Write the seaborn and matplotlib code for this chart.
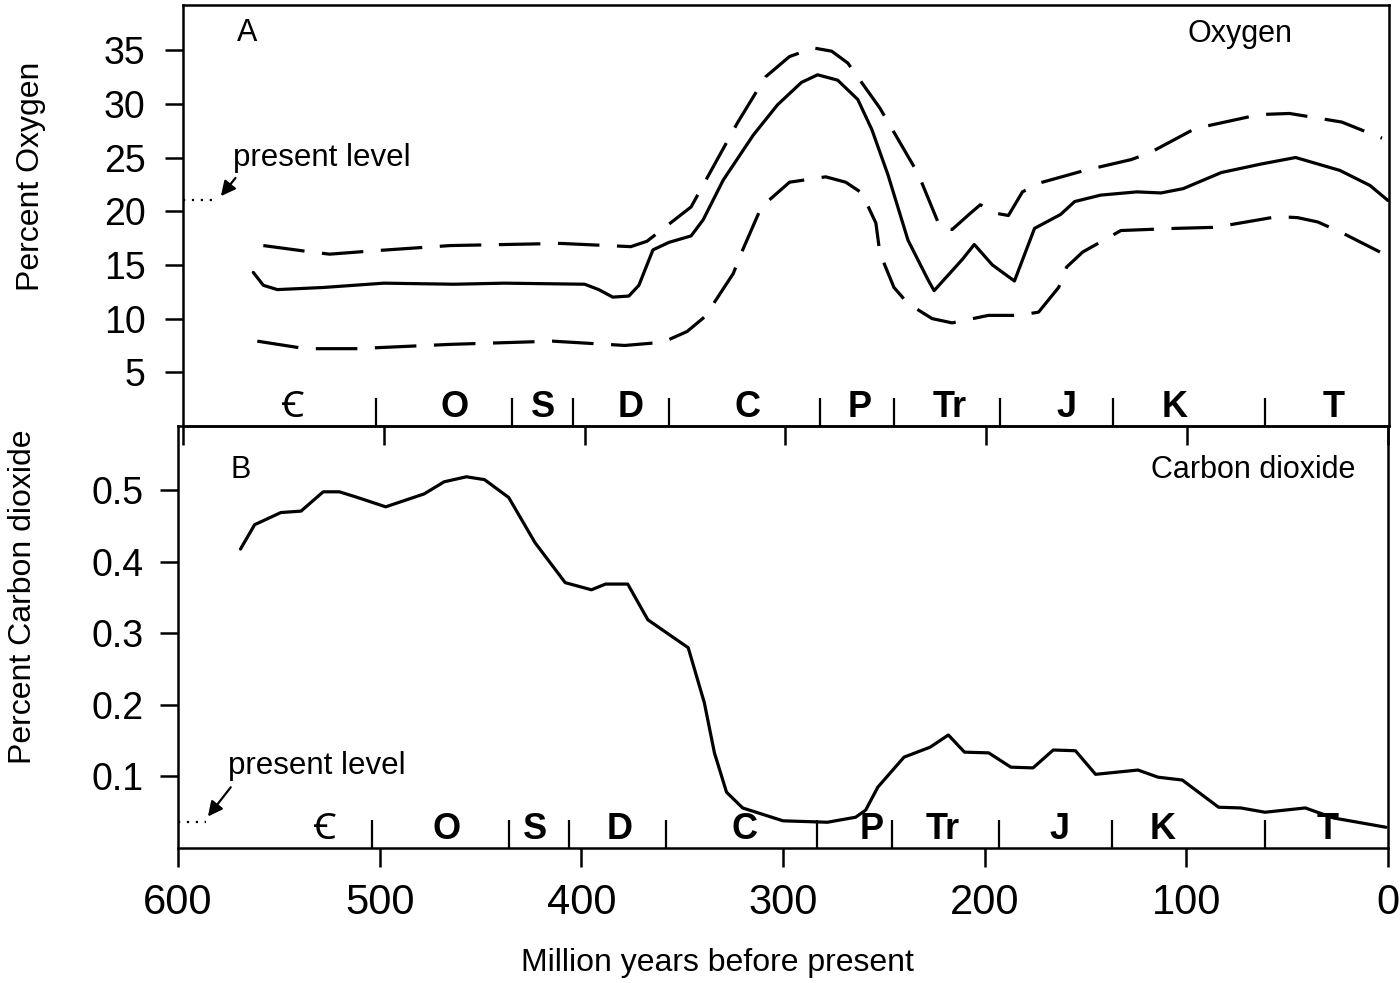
import pandas as pd
import matplotlib
matplotlib.use('Agg')
import matplotlib.pyplot as plt
import matplotlib.transforms as mtransforms
import seaborn as sns

# oxygen, best estimate (million years ago, percent)
o2_age = [565, 560, 553, 530, 500, 465, 440, 400, 393, 386, 378, 373, 366, 358, 347, 341,
          331, 316, 304, 292, 284, 274, 264, 257, 249, 239, 229, 226, 212, 206, 197, 186,
          176, 163, 156, 143, 125, 113, 102, 83, 63, 46, 24, 9, 0]
o2_mid = [14.3, 13.1, 12.7, 12.9, 13.3, 13.2, 13.3, 13.2, 12.7, 12.0, 12.1, 13.1, 16.4, 17.1,
          17.7, 19.2, 22.9, 27.1, 29.9, 32.0, 32.7, 32.2, 30.4, 27.6, 23.4, 17.3, 13.6, 12.6,
          15.5, 16.9, 15.0, 13.5, 18.4, 19.7, 20.9, 21.5, 21.8, 21.7, 22.1, 23.6, 24.4, 25.0,
          23.8, 22.4, 21.0]
# upper error band
o2_hi_age = [560, 536, 527, 506, 467, 412, 377, 369, 347, 324, 310, 298, 286, 277, 269, 253,
             234, 223, 217, 208, 203, 195, 189, 182, 174, 151, 128, 119, 96, 64, 49, 23, 3]
o2_hi = [16.8, 16.2, 16.0, 16.3, 16.8, 17.0, 16.7, 17.2, 20.4, 28.2, 32.5, 34.4, 35.2, 34.9,
         33.8, 29.6, 23.5, 18.5, 18.3, 19.8, 20.6, 19.8, 19.6, 21.8, 22.6, 23.8, 24.8, 25.4,
         27.7, 29.0, 29.1, 28.3, 26.8]
# lower error band
o2_lo_age = [563, 539, 514, 467, 416, 380, 361, 349, 340, 326, 322, 312, 298, 280, 270, 262,
             255, 253, 246, 239, 227, 217, 199, 184, 174, 164, 160, 152, 133, 106, 86, 55, 45,
             35, 23, 4]
o2_lo = [7.9, 7.2, 7.2, 7.6, 7.9, 7.5, 7.8, 8.8, 10.2, 14.2, 16.1, 20.4, 22.7, 23.2, 22.7, 21.7,
         18.9, 16.1, 12.9, 11.4, 10.0, 9.6, 10.3, 10.3, 10.6, 12.9, 14.8, 16.2, 18.2, 18.4,
         18.5, 19.5, 19.4, 19.0, 18.0, 16.2]

# carbon dioxide
co2_age = [569, 562, 549, 539, 528, 520, 512, 497, 478, 468, 457, 448, 436, 423, 408, 395,
           388, 377, 367, 347, 339, 334, 328, 320, 300, 278, 264, 259, 253, 240, 227, 218,
           210, 198, 187, 176, 166, 155, 145, 124, 114, 102, 84, 73, 61, 41, 27, 1]
co2 = [0.418, 0.452, 0.469, 0.471, 0.498, 0.498, 0.491, 0.477, 0.495, 0.512, 0.519, 0.515,
       0.490, 0.427, 0.371, 0.361, 0.369, 0.369, 0.319, 0.280, 0.203, 0.133, 0.078, 0.056,
       0.038, 0.036, 0.043, 0.053, 0.085, 0.127, 0.141, 0.158, 0.134, 0.133, 0.113, 0.112,
       0.137, 0.136, 0.103, 0.109, 0.099, 0.095, 0.057, 0.056, 0.050, 0.056, 0.042, 0.029]

o2_present = 21.0
co2_present = 0.036

period_names = ['\uA792', 'O', 'S', 'D', 'C', 'P', 'Tr', 'J', 'K', 'T']
period_bounds = [504, 436, 406, 358, 283, 246, 193, 137, 61]
period_mid_a = [545, 465, 421, 377, 319, 263, 218, 160, 106, 27]
period_mid_b = [527, 467, 423, 381, 319, 256, 221, 163, 112, 30]

o2_ticks = [5, 10, 15, 20, 25, 30, 35]
co2_ticks = [0.1, 0.2, 0.3, 0.4, 0.5]
age_ticks = [600, 500, 400, 300, 200, 100, 0]

sns.set_theme(style='ticks')
plt.rcParams['font.family'] = ['Liberation Sans', 'Noto Sans', 'DejaVu Sans']
plt.rcParams.update({'axes.linewidth': 1.8, 'axes.edgecolor': 'black', 'text.color': 'black',
                     'axes.labelcolor': 'black', 'xtick.color': 'black', 'ytick.color': 'black'})

fig = plt.figure(figsize=(14, 9.83), dpi=100)
ax1 = fig.add_axes([183 / 1400, 1 - 426 / 983, 1206 / 1400, 421 / 983])
ax2 = fig.add_axes([178 / 1400, 1 - 848 / 983, 1210 / 1400, 422 / 983])
for ax in (ax1, ax2):
    ax.set_facecolor('none')

lw = 2.3
dash = (0, (13, 5.5))
sns.lineplot(x=o2_age, y=o2_mid, ax=ax1, color='black', lw=lw, sort=False)
sns.lineplot(x=o2_hi_age, y=o2_hi, ax=ax1, color='black', lw=lw, sort=False, linestyle=dash)
sns.lineplot(x=o2_lo_age, y=o2_lo, ax=ax1, color='black', lw=lw, sort=False, linestyle=dash)
sns.lineplot(x=co2_age, y=co2, ax=ax2, color='black', lw=lw, sort=False)

ax1.set_xlim(597.5, -0.5)
ax1.set_ylim(0, 39.2)
ax2.set_xlim(600, 0)
ax2.set_ylim(0, 0.59)

ax1.set_yticks(o2_ticks)
ax1.set_yticklabels([str(t) for t in o2_ticks])
ax2.set_yticks(co2_ticks)
ax2.set_yticklabels([str(t) for t in co2_ticks])
for ax in (ax1, ax2):
    ax.set_xticks(age_ticks)
    ax.set_xticks(period_bounds, minor=True)
    ax.tick_params(axis='y', which='major', direction='out', length=13, width=1.8,
                   labelsize=27, pad=14 if ax is ax1 else 12)
    ax.tick_params(axis='x', which='minor', direction='in', length=20, width=1.6)
    ax.tick_params(axis='x', which='major', direction='out', length=14, width=1.8)
ax1.tick_params(axis='x', which='major', labelbottom=False)
ax2.tick_params(axis='x', which='major', labelsize=30, pad=11)
ax2.set_xticklabels([str(t) for t in age_ticks])

ax1.set_ylabel('Percent Oxygen', fontsize=23)
ax2.set_ylabel('Percent Carbon dioxide', fontsize=23)
ax1.yaxis.set_label_coords(-0.114, 0.594)
ax2.yaxis.set_label_coords(-0.116, 0.595)
ax2.set_xlabel('Million years before present', fontsize=23)
ax2.xaxis.set_label_coords(0.446, -0.238)
ax1.set_xlabel('')

# panel letters and titles
ax1.text(0.045, 0.933, 'A', transform=ax1.transAxes, fontsize=22, ha='left', va='center')
ax1.text(0.92, 0.93, 'Oxygen', transform=ax1.transAxes, fontsize=22, ha='right', va='center')
ax2.text(0.043, 0.896, 'B', transform=ax2.transAxes, fontsize=22, ha='left', va='center')
ax2.text(0.973, 0.896, 'Carbon dioxide', transform=ax2.transAxes, fontsize=22,
         ha='right', va='center')

# geologic periods
for ax, mids in ((ax1, period_mid_a), (ax2, period_mid_b)):
    trans = mtransforms.blended_transform_factory(ax.transData, ax.transAxes)
    for name, m in zip(period_names, mids):
        ax.text(m, 0.045, name, transform=trans, fontsize=26, fontweight='bold',
                ha='center', va='center')

# present level markers
ax1.plot([600, 585], [o2_present, o2_present], color='black', lw=1.6,
         linestyle=(0, (1, 3)), clip_on=False)
ax1.text(575, 25.0, 'present level', fontsize=22.5, ha='left', va='center')
ax1.annotate('', xy=(582, o2_present + 0.2), xytext=(573, 23.3),
             arrowprops=dict(arrowstyle='-|>', color='black', lw=1.6, mutation_scale=22))
ax2.plot([600, 586], [co2_present, co2_present], color='black', lw=1.6,
         linestyle=(0, (1, 3)), clip_on=False)
ax2.text(575, 0.115, 'present level', fontsize=22.5, ha='left', va='center')
ax2.annotate('', xy=(586, co2_present + 0.005), xytext=(573, 0.088),
             arrowprops=dict(arrowstyle='-|>', color='black', lw=1.6, mutation_scale=22))

fig.savefig('out.png', dpi=100)
